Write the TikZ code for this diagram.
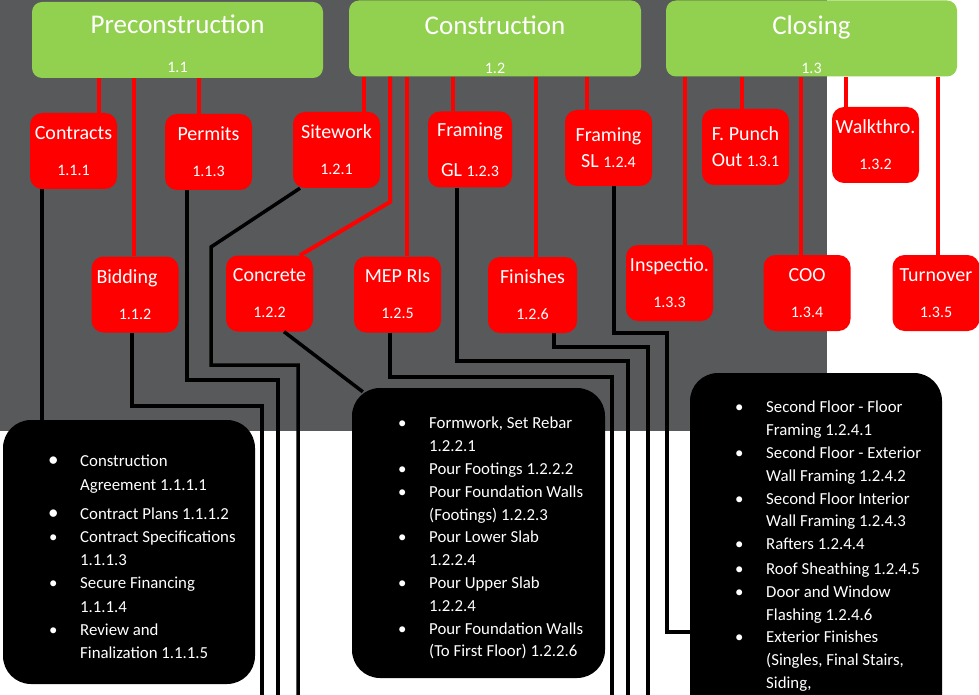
\documentclass[tikz,border=0pt]{standalone}
\usepackage{fontspec}
\setmainfont{Carlito}

\definecolor{slate}{RGB}{88,89,91}
\definecolor{leaf}{RGB}{146,208,80}

\newcommand{\nm}[1]{{\fontsize{16}{16}\selectfont #1}}
\newcommand{\bul}{\makebox[31pt][l]{\textbullet}}
\newcommand{\bigbul}{\makebox[31pt][l]{\hspace*{-1pt}\fontsize{21}{16}\selectfont\textbullet}}
\newcommand{\cont}{\hspace*{31pt}}

\begin{document}
\begin{tikzpicture}[x=1pt, y=-1pt,
	phase/.style={fill=leaf, rounded corners=10pt, minimum width=291pt, minimum height=76pt, inner sep=0pt, text=white, align=center, font=\fontsize{27}{39}\selectfont},
	task/.style={fill=red, rounded corners=12pt, minimum width=87pt, minimum height=76pt, inner sep=0pt, text=white, align=center, font=\fontsize{20}{36}\selectfont},
	pack/.style={fill=black, rounded corners=28pt, inner sep=0pt},
	items/.style={anchor=north west, inner sep=0pt, text=white, align=left, font=\fontsize{16.8}{22.8}\selectfont},
	wbs/.style={red, line width=4pt},
	link/.style={black, line width=3.5pt}]
	\clip (0,0) rectangle (979,695);
	\fill[white] (0,0) rectangle (979,695);
	\fill[slate] (0,0) rectangle (827,431);
	
	\node[phase] (pre) at (177.5,40) {\rule{0pt}{26pt}Preconstruction\\\nm{1.1}};
	\node[phase, minimum width=292pt] (con) at (495,38.5) {\rule{0pt}{31pt}Construction\\\nm{1.2}};
	\node[phase] (clo) at (811.5,38.5) {\rule{0pt}{31pt}Closing\\\nm{1.3}};
	
	\node[task] (c111) at (73.5,151) {Contracts\\\nm{1.1.1}};
	\node[task] (c113) at (208.5,152) {Permits\\\nm{1.1.3}};
	\node[task] (c121) at (336.5,150) {Sitework\\\nm{1.2.1}};
	\node[task, minimum width=84pt] (c123) at (470,149.5) {Framing\\[4pt]GL \nm{1.2.3}};
	\node[task] (c124) at (608.5,148) {Framing\\[-10pt]SL \nm{1.2.4}};
	\node[task] (c131) at (745.5,147) {F. Punch\\[-10pt]Out \nm{1.3.1}};
	\node[task] (c132) at (875.5,145) {Walkthro.\\\nm{1.3.2}};
	\node[task] (c112) at (135,294.5) {\hspace*{-16pt}Bidding\\\nm{1.1.2}};
	\node[task] (c122) at (269.5,293.5) {Concrete\\\nm{1.2.2}};
	\node[task] (c125) at (397.5,294.5) {MEP RIs\\\nm{1.2.5}};
	\node[task, minimum width=89pt] (c126) at (532.5,295) {Finishes\\\nm{1.2.6}};
	\node[task] (c133) at (669.5,283) {Inspectio.\\\nm{1.3.3}};
	\node[task] (c134) at (807,293) {COO\\\nm{1.3.4}};
	\node[task] (c135) at (936,293) {Turnover\\\nm{1.3.5}};
	
	\draw[wbs] (99,0 |- pre.south) -- (99,0 |- c111.north);
	\draw[wbs] (134,0 |- pre.south) -- (134,0 |- c112.north);
	\draw[wbs] (199,0 |- pre.south) -- (199,0 |- c113.north);
	\draw[wbs] (364,0 |- con.south) -- (364,0 |- c121.north);
	\draw[wbs] (390,0 |- con.south) -- (390,202) -- (300,0 |- c122.north);
	\draw[wbs] (407,0 |- con.south) -- (407,0 |- c125.north);
	\draw[wbs] (453,0 |- con.south) -- (453,0 |- c123.north);
	\draw[wbs] (536,0 |- con.south) -- (536,0 |- c126.north);
	\draw[wbs] (587,0 |- con.south) -- (587,0 |- c124.north);
	\draw[wbs] (685,0 |- clo.south) -- (685,0 |- c133.north);
	\draw[wbs] (742,0 |- clo.south) -- (742,0 |- c131.north);
	\draw[wbs] (801,0 |- clo.south) -- (801,0 |- c134.north);
	\draw[wbs] (846,0 |- clo.south) -- (846,0 |- c132.north);
	\draw[wbs] (938,0 |- clo.south) -- (938,0 |- c135.north);
	
	\node[pack, minimum width=252pt, minimum height=264pt] (pack111) at (129,552) {};
	\node[pack, minimum width=253pt, minimum height=290pt] (pack122) at (478.5,533) {};
	\node[pack, minimum width=252pt, minimum height=350pt] (pack124) at (816,548) {};
	
	\draw[link] (42,0 |- c111.south) -- (42,0 |- pack111.north);
	\draw[link] (132,0 |- c112.south) -- (132,406) -- (262,406) -- (262,700);
	\draw[link] (187,0 |- c113.south) -- (187,380) -- (278,380) -- (278,700);
	\draw[link] (300,0 |- c121.south) -- (211,247) -- (211,365) -- (298,365) -- (298,700);
	\draw[link] (284,0 |- c122.south) -- ([shift={(11,4)}]pack122.north west);
	\draw[link] (390,0 |- c125.south) -- (390,377) -- (612,377) -- (612,700);
	\draw[link] (457,0 |- c123.south) -- (457,361) -- (628,361) -- (628,700);
	\draw[link] (554,0 |- c126.south) -- (554,347) -- (648,347) -- (648,700);
	\draw[link] (614,0 |- c124.south) -- (614,333) -- (667,333) -- (667,632) -- (pack124.west |- 0,632);
	
	\node[items, font=\fontsize{16.8}{23.2}\selectfont] (txt111) at (49,455) {\bigbul Construction\\
		\cont Agreement 1.1.1.1\\[6pt]
		\bigbul Contract Plans 1.1.1.2\\
		\bul Contract Specifications\\
		\cont 1.1.1.3\\
		\bul Secure Financing\\
		\cont 1.1.1.4\\
		\bul Review and\\
		\cont Finalization 1.1.1.5};
	\node[items] (txt122) at (398,417) {\bul Formwork, Set Rebar\\
		\cont 1.2.2.1\\
		\bul Pour Footings 1.2.2.2\\
		\bul Pour Foundation Walls\\
		\cont (Footings) 1.2.2.3\\
		\bul Pour Lower Slab\\
		\cont 1.2.2.4\\
		\bul Pour Upper Slab\\
		\cont 1.2.2.4\\
		\bul Pour Foundation Walls\\
		\cont (To First Floor) 1.2.2.6};
	\node[items] (txt124) at (735,401) {\bul Second Floor - Floor\\
		\cont Framing 1.2.4.1\\
		\bul Second Floor - Exterior\\
		\cont Wall Framing 1.2.4.2\\
		\bul Second Floor Interior\\
		\cont Wall Framing 1.2.4.3\\
		\bul Rafters 1.2.4.4\\[2pt]
		\bul Roof Sheathing 1.2.4.5\\
		\bul Door and Window\\
		\cont Flashing 1.2.4.6\\
		\bul Exterior Finishes\\
		\cont (Singles, Final Stairs,\\
		\cont Siding,};
\end{tikzpicture}
\end{document}
